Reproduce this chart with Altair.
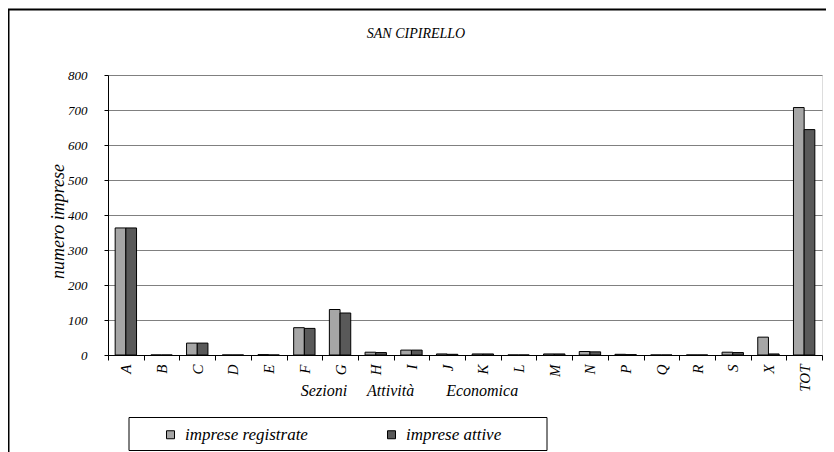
import altair as alt
import pandas as pd

categories = ["A", "B", "C", "D", "E", "F", "G", "H", "I", "J", "K", "L",
              "M", "N", "P", "Q", "R", "S", "X", "TOT"]
registrate = [363, 0, 34, 0, 1, 78, 130, 8, 14, 3, 3, 0, 3, 10, 2, 0, 0, 8, 51, 707]
attive = [363, 0, 34, 0, 0, 76, 120, 7, 14, 2, 3, 0, 3, 9, 1, 0, 0, 7, 3, 644]
series = ["imprese registrate", "imprese attive"]
colors = ["#a6a6a6", "#595959"]
y_ticks = [0, 100, 200, 300, 400, 500, 600, 700, 800]

rows = []
for c, r, a in zip(categories, registrate, attive):
    rows.append({"sezione": c, "serie": series[0], "valore": r})
    rows.append({"sezione": c, "serie": series[1], "valore": a})
df = pd.DataFrame(rows)

FONT = "Liberation Serif"
NB = "\u00a0"
x_title = "Sezioni" + NB * 5 + "Attività" + NB * 8 + "Economica"

bars = alt.Chart(df).mark_bar(stroke="black", strokeWidth=1).encode(
    x=alt.X("sezione:N", sort=categories,
            scale=alt.Scale(paddingInner=0, paddingOuter=0),
            axis=alt.Axis(title=x_title, labelAngle=-90, tickBand="extent",
                          tickSize=5, tickColor="black", domainColor="black",
                          labelFont=FONT, labelFontStyle="italic", labelFontSize=15,
                          labelColor="black", labelPadding=4,
                          titleFont=FONT, titleFontStyle="italic", titleFontWeight="normal",
                          titleFontSize=16, titleColor="black",
                          titleX=301, titleY=40, titleAlign="center",
                          titleBaseline="alphabetic")),
    xOffset=alt.XOffset("serie:N", sort=series,
                        scale=alt.Scale(paddingOuter=0.67, paddingInner=0)),
    y=alt.Y("valore:Q", scale=alt.Scale(domain=[0, 800], nice=False),
            axis=alt.Axis(title="numero imprese", values=y_ticks, grid=True,
                          gridColor="#808080", tickSize=4, tickColor="black",
                          domainColor="black", labelFont=FONT, labelFontStyle="italic",
                          labelFontSize=13, labelColor="black", labelPadding=17,
                          titleFont=FONT, titleFontStyle="italic", titleFontWeight="normal",
                          titleFontSize=18, titleColor="black",
                          titleX=-50, titleY=146, titleAlign="center",
                          titleBaseline="middle")),
    color=alt.Color("serie:N", sort=series,
                    scale=alt.Scale(domain=series, range=colors),
                    legend=alt.Legend(title=None, orient="none", direction="horizontal",
                                      legendX=54, legendY=351, padding=0,
                                      symbolType="square", symbolSize=64,
                                      symbolStrokeColor="black", symbolStrokeWidth=1,
                                      labelFont=FONT, labelFontStyle="italic",
                                      labelFontSize=17, labelColor="black",
                                      labelOffset=6, columnPadding=75,
                                      labelLimit=300)),
)

dummy = pd.DataFrame({"k": [0]})
frame = alt.Chart(dummy).mark_rect(fill="none", stroke="black", strokeWidth=2).encode(
    x=alt.value(-99.5), x2=alt.value(760), y=alt.value(-65.5), y2=alt.value(500)
)
legend_box = alt.Chart(dummy).mark_rect(fill="white", stroke="black", strokeWidth=1).encode(
    x=alt.value(21), x2=alt.value(439), y=alt.value(342.5), y2=alt.value(375.5)
)

chart = alt.layer(frame, legend_box, bars).properties(
    width=714, height=280,
    title=alt.TitleParams("SAN CIPIRELLO", font=FONT, fontStyle="italic",
                          fontWeight="normal", fontSize=14, color="black",
                          anchor="middle", offset=-32, dx=-49),
    autosize=alt.AutoSizeParams(type="none"),
    padding={"left": 100, "top": 67, "right": 4, "bottom": 97},
).configure_view(stroke="#808080", strokeWidth=1).configure(background="white")

chart.save("out.html", embed_options={"renderer": "svg", "actions": False})
